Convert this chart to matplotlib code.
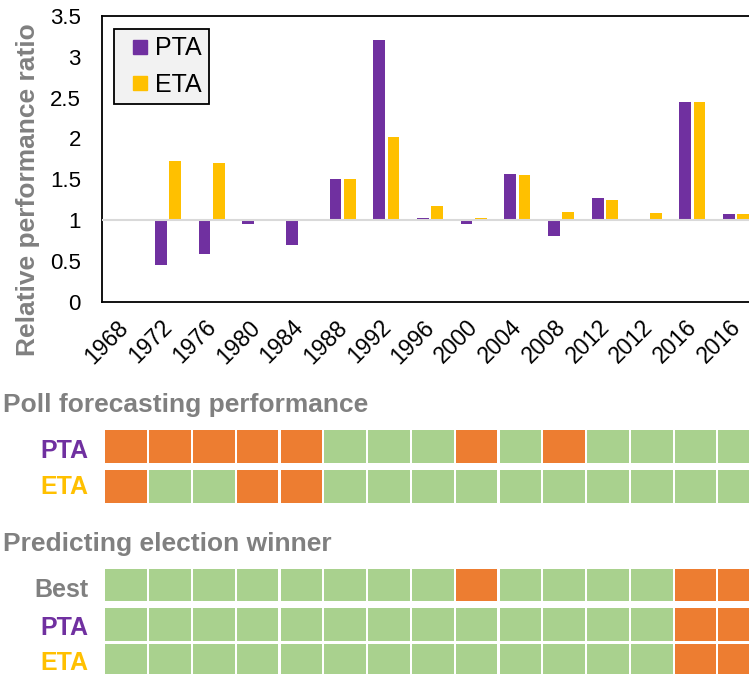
import matplotlib
matplotlib.use("Agg")
import matplotlib.pyplot as plt
import matplotlib.transforms as mtransforms
from matplotlib.lines import Line2D
import numpy as np

plt.rcParams['font.family'] = ['Liberation Sans', 'DejaVu Sans']

# Data
years = ['1968', '1972', '1976', '1980', '1984', '1988', '1992', '1996',
         '2000', '2004', '2008', '2012', '2012', '2016', '2016']
pta = [0.99, 0.45, 0.58, 0.955, 0.70, 1.50, 3.20, 1.02,
       0.95, 1.56, 0.81, 1.27, 1.005, 2.45, 1.07]
eta = [1.00, 1.727, 1.695, 1.00, 1.00, 1.50, 2.02, 1.17,
       1.02, 1.55, 1.10, 1.25, 1.09, 2.45, 1.07]

# 1 = correct (green), 0 = wrong (orange)
poll_pta = [0, 0, 0, 0, 0, 1, 1, 1, 0, 1, 0, 1, 1, 1, 1]
poll_eta = [0, 1, 1, 0, 0, 1, 1, 1, 1, 1, 1, 1, 1, 1, 1]
win_best = [1, 1, 1, 1, 1, 1, 1, 1, 0, 1, 1, 1, 1, 0, 0]
win_pta = [1, 1, 1, 1, 1, 1, 1, 1, 1, 1, 1, 1, 1, 0, 0]
win_eta = [1, 1, 1, 1, 1, 1, 1, 1, 1, 1, 1, 1, 1, 0, 0]

purple = '#7030A0'
gold = '#FFC000'
grey = '#808080'
green = '#A9D18E'
orange = '#ED7D31'

W, H = 749, 674
fig = plt.figure(figsize=(W / 100, H / 100), dpi=100)

# ---- bar chart ----
ax = fig.add_axes([102.3 / W, 1 - 301.7 / H, 655.5 / W, 285.7 / H])
x = np.arange(len(years))
bw = 0.268
off = 0.164
ax.bar(x - off, np.array(pta) - 1, bottom=1, width=bw, color=purple, zorder=2)
ax.bar(x + off, np.array(eta) - 1, bottom=1, width=bw, color=gold, zorder=2)
ax.axhline(1, color='#D9D9D9', lw=1.5, zorder=3)

ax.set_xlim(-0.5, len(years) - 0.5)
ax.set_ylim(0, 3.5)
ax.set_yticks(np.arange(0, 3.51, 0.5))
ax.set_yticklabels(['0', '0.5', '1', '1.5', '2', '2.5', '3', '3.5'])
ax.tick_params(axis='y', length=0, pad=15.5, labelsize=16)
ax.set_xticks(x)
ax.set_xticklabels(years, rotation=45, ha='right', va='center',
                   rotation_mode='anchor', fontsize=16.5)
ax.tick_params(axis='x', length=0, pad=16)
shift = mtransforms.ScaledTranslation(1 / 100, 0, fig.dpi_scale_trans)
for lab in ax.get_xticklabels():
    lab.set_transform(lab.get_transform() + shift)
for sp in ax.spines.values():
    sp.set_linewidth(1.3)
    sp.set_color('black')

handles = [Line2D([], [], ls='', marker='s', ms=9.5, color=purple),
           Line2D([], [], ls='', marker='s', ms=9.5, color=gold)]
leg = ax.legend(handles, ['PTA', 'ETA'], loc='upper left',
                bbox_to_anchor=(0.0178, 0.9545), borderaxespad=0,
                fontsize=18, fancybox=False, framealpha=1,
                facecolor='#F2F2F2', edgecolor='black',
                borderpad=0.3, labelspacing=0.5,
                handlelength=1.45, handletextpad=-0.1)
leg.get_frame().set_linewidth(1.3)

fig.text(28 / W, 1 - 190 / H, 'Relative performance ratio', rotation=90,
         ha='center', va='center', fontsize=19, fontweight='bold', color=grey)

# ---- performance grids ----
hm = fig.add_axes([105.3 / W, 0, 15 * 43.8 / W, 294 / H])
hm.set_xlim(0, 15)
hm.set_ylim(294, 0)
hm.axis('off')

rows = [poll_pta, poll_eta, win_best, win_pta, win_eta]
row_tops = [50, 90, 188.7, 228.3, 263.7]
cols = np.arange(15)
for vals, top in zip(rows, row_tops):
    colors = [green if v else orange for v in vals]
    hm.bar(cols, 32.7, bottom=top, width=0.952, align='edge', color=colors)

fig.text(2.7 / W, 1 - 412.3 / H, 'Poll forecasting performance',
         ha='left', va='baseline', fontsize=19, fontweight='bold', color=grey)
fig.text(2.7 / W, 1 - 550.7 / H, 'Predicting election winner',
         ha='left', va='baseline', fontsize=19, fontweight='bold', color=grey)

row_names = ['PTA', 'ETA', 'Best', 'PTA', 'ETA']
row_colors = [purple, gold, grey, purple, gold]
row_base = [457.7, 494.3, 597.3, 635, 670.5]
for name, col, yb in zip(row_names, row_colors, row_base):
    fig.text(88 / W, 1 - yb / H, name, ha='right', va='baseline',
             fontsize=18, fontweight='bold', color=col)

fig.savefig('out.png', dpi=100)
